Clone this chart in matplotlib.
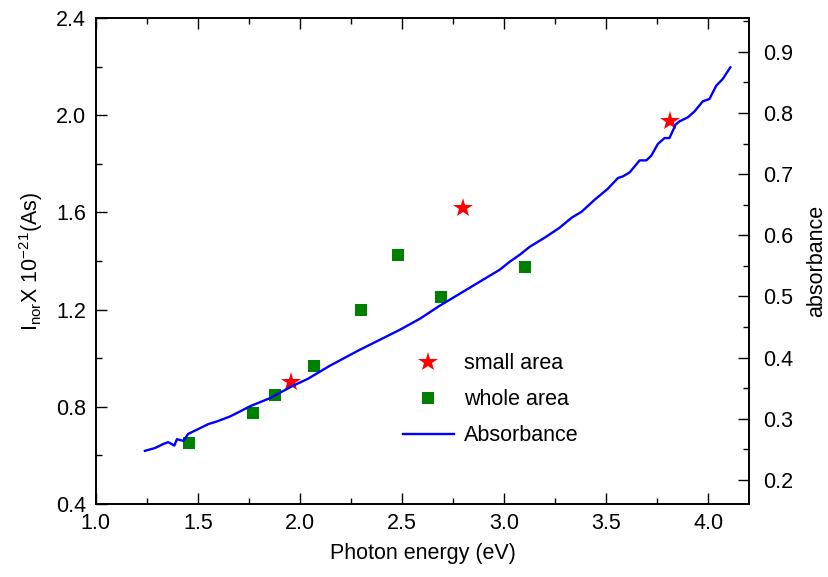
import numpy as np
import matplotlib
matplotlib.use("Agg")
import matplotlib.pyplot as plt
from matplotlib.ticker import MultipleLocator

plt.rcParams['font.family'] = ['Liberation Sans', 'DejaVu Sans']
plt.rcParams['mathtext.fontset'] = 'custom'
plt.rcParams['mathtext.rm'] = 'Liberation Sans'
plt.rcParams['mathtext.it'] = 'Liberation Sans'

# whole area (green squares)
whole_e = [1.456, 1.770, 1.877, 2.068, 2.298, 2.480, 2.690, 3.100]
whole_i = [0.650, 0.774, 0.848, 0.967, 1.198, 1.424, 1.251, 1.375]

# small area (red stars)
small_e = [1.956, 2.800, 3.813]
small_i = [0.901, 1.619, 1.978]

# absorbance curve (right axis)
abs_e = [1.241, 1.290, 1.329, 1.355, 1.385, 1.398, 1.429, 1.453, 1.494, 1.551,
         1.592, 1.657, 1.706, 1.755, 1.853, 1.965, 2.039, 2.146, 2.293, 2.391,
         2.489, 2.587, 2.684, 2.782, 2.880, 2.978, 3.027, 3.076, 3.125, 3.198,
         3.271, 3.330, 3.379, 3.443, 3.506, 3.557, 3.581, 3.614, 3.663, 3.696,
         3.720, 3.752, 3.785, 3.809, 3.839, 3.858, 3.899, 3.932, 3.972, 4.005,
         4.038, 4.070, 4.107]
abs_v = [0.2475, 0.2520, 0.2584, 0.2617, 0.2561, 0.2666, 0.2638, 0.2752, 0.2818, 0.2912,
         0.2954, 0.3036, 0.3118, 0.3203, 0.3337, 0.3538, 0.3653, 0.3866, 0.4128, 0.4291,
         0.4455, 0.4635, 0.4848, 0.5044, 0.5241, 0.5437, 0.5568, 0.5682, 0.5813, 0.5961,
         0.6124, 0.6288, 0.6386, 0.6583, 0.6758, 0.6938, 0.6964, 0.7029, 0.7226, 0.7226,
         0.7303, 0.7494, 0.7591, 0.7591, 0.7810, 0.7864, 0.7930, 0.8028, 0.8191, 0.8231,
         0.8448, 0.8558, 0.8748]

fig = plt.figure(figsize=(8.29, 5.77), dpi=100)
ax = fig.add_axes([0.1154, 0.127, 0.7885, 0.8413])
ax2 = ax.twinx()

s1, = ax.plot(small_e, small_i, linestyle='none', marker='*', color='#ff0000',
              markersize=15, markeredgewidth=0, label='small area')
s2, = ax.plot(whole_e, whole_i, linestyle='none', marker='s', color='#008000',
              markersize=9, markeredgewidth=0, label='whole area')
l3, = ax2.plot(abs_e, abs_v, color='#0000ff', linewidth=1.7, label='Absorbance')

ax.set_xlim(1.0, 4.2)
ax.set_ylim(0.4, 2.4)
ax2.set_ylim(0.161, 0.955)

ax.xaxis.set_major_locator(MultipleLocator(0.5))
ax.xaxis.set_minor_locator(MultipleLocator(0.25))
ax.yaxis.set_major_locator(MultipleLocator(0.4))
ax.yaxis.set_minor_locator(MultipleLocator(0.2))
ax2.yaxis.set_major_locator(MultipleLocator(0.1))
ax2.yaxis.set_minor_locator(MultipleLocator(0.05))

fs = 15.5
ax.tick_params(which='both', direction='in', top=True, labelsize=fs, width=1, pad=7)
ax.tick_params(which='major', length=8)
ax.tick_params(which='minor', length=4)
ax2.tick_params(which='both', direction='in', labelsize=fs, width=1, pad=10)
ax2.tick_params(which='major', length=8)
ax2.tick_params(which='minor', length=4)

ax.xaxis.set_major_formatter(matplotlib.ticker.FormatStrFormatter('%.1f'))
ax.yaxis.set_major_formatter(matplotlib.ticker.FormatStrFormatter('%.1f'))
ax2.yaxis.set_major_formatter(matplotlib.ticker.FormatStrFormatter('%.1f'))

ax.set_xlabel('Photon energy (eV)', fontsize=fs, labelpad=6)
ax.set_ylabel(r'I$_{\mathrm{nor}}$X 10$^{\mathrm{-21}}$(As)', fontsize=fs, labelpad=8)
ax2.set_ylabel('absorbance', fontsize=fs, labelpad=9)

for a in (ax, ax2):
    for sp in a.spines.values():
        sp.set_linewidth(1.2)

ax.legend(handles=[s1, s2, l3], loc='upper left', bbox_to_anchor=(0.44, 0.35),
          frameon=False, fontsize=fs, handlelength=2.4, labelspacing=0.7,
          handletextpad=0.45)

fig.savefig('out.png', dpi=100)
